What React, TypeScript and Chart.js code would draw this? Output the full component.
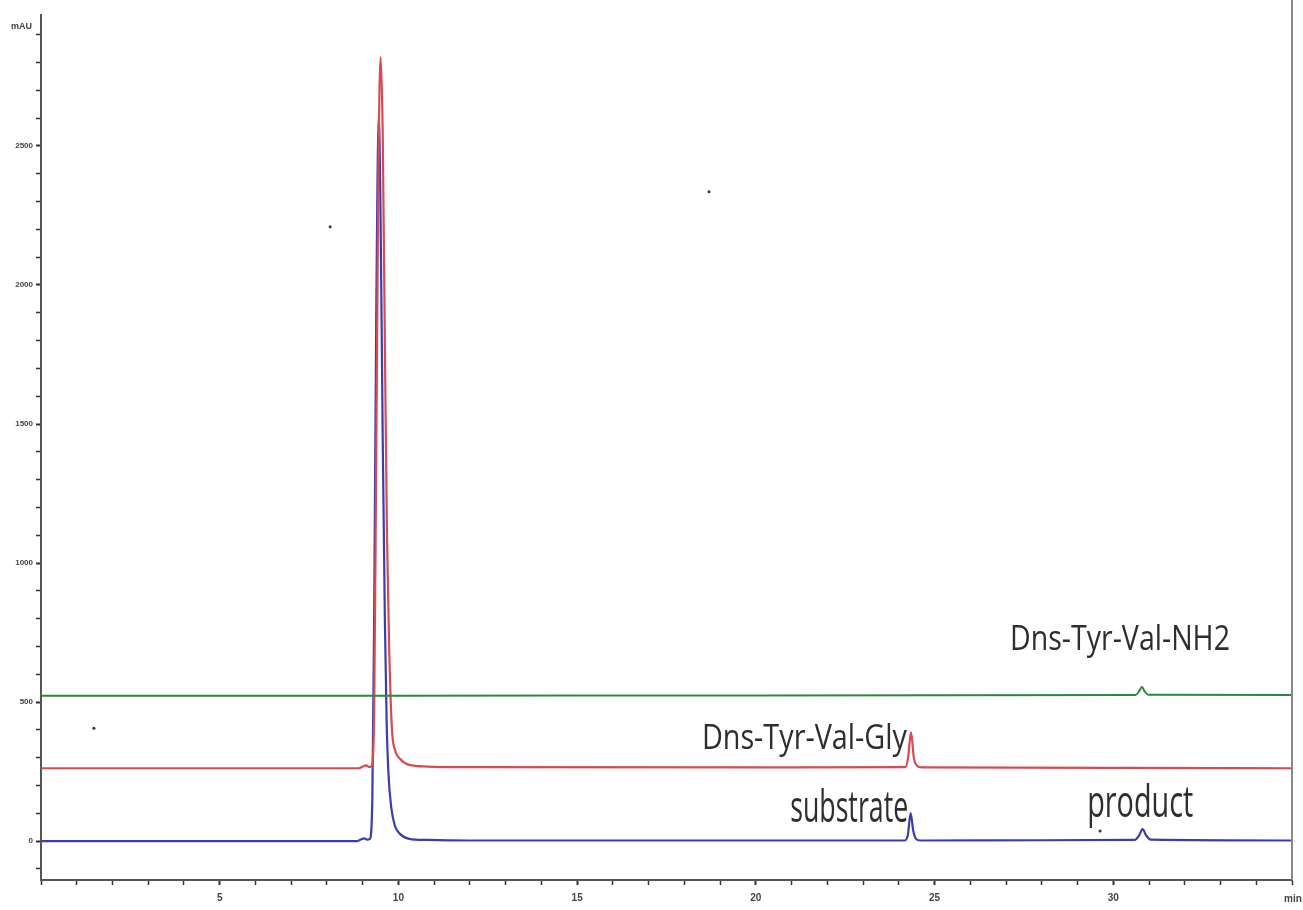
import React, { useEffect, useRef } from "react";
import { Chart, registerables } from "chart.js";

Chart.register(...registerables);

// Retention time (min) and absorbance (mAU) pairs
const blueTimes = [0, 5, 8.85, 8.95, 9.05, 9.12, 9.2, 9.27, 9.32, 9.38, 9.45, 9.5, 9.56, 9.62, 9.67, 9.72, 9.8, 9.9, 10.05, 10.3, 10.8, 12, 18, 24.15, 24.25, 24.33, 24.4, 24.48, 24.6, 28, 30.6, 30.72, 30.82, 30.92, 31.05, 35];
const blueValues = [0, 0, 0, 6, 10, 5, 8, 150, 800, 1900, 2611, 2250, 1450, 800, 430, 245, 120, 55, 25, 8, 4, 2, 2, 2, 20, 101, 40, 8, 2, 3, 4, 20, 43, 20, 5, 2];

const redTimes = [0, 5, 8.9, 9.0, 9.1, 9.18, 9.25, 9.32, 9.38, 9.44, 9.5, 9.56, 9.62, 9.68, 9.74, 9.82, 9.9, 10.05, 10.3, 10.8, 12, 20, 24.18, 24.26, 24.34, 24.42, 24.5, 24.65, 30, 35];
const redValues = [262, 262, 262, 268, 272, 266, 270, 450, 1400, 2400, 2820, 2550, 1800, 1100, 700, 400, 330, 295, 274, 268, 266, 265, 266, 300, 392, 300, 272, 265, 263, 262];

const greenTimes = [0, 10, 20, 30.62, 30.72, 30.8, 30.88, 30.98, 35];
const greenValues = [523, 523, 524, 525, 538, 554, 538, 526, 525];

const speckTimes = [1.48, 8.09, 18.69, 29.63];
const speckValues = [406, 2209, 2335, 36];

const labelTexts = ["Dns-Tyr-Val-NH2", "Dns-Tyr-Val-Gly", "substrate", "product"];
const labelTimes = [27.11, 18.49, 20.96, 29.27];
const labelValues = [687, 331, 68, 86];

const xMajorTicks = [5, 10, 15, 20, 25, 30];
const yMajorTicks = [0, 500, 1000, 1500, 2000, 2500];

const toPoints = (xs: number[], ys: number[]) => xs.map((x, i) => ({ x, y: ys[i] }));

const labelStyle = [
  { size: 35, width: 220 },
  { size: 35, width: 205 },
  { size: 44, width: 118 },
  { size: 44, width: 106 },
];

const decorPlugin = {
  id: "decor",
  afterDraw(chart: any) {
    const { ctx, chartArea, scales } = chart;
    ctx.save();
    // right frame line
    ctx.strokeStyle = "#8a8a8a";
    ctx.lineWidth = 2;
    ctx.beginPath();
    ctx.moveTo(chartArea.right, 0);
    ctx.lineTo(chartArea.right, chartArea.bottom);
    ctx.stroke();

    // axis unit labels
    ctx.fillStyle = "#444";
    ctx.font = "bold 9px 'Liberation Sans'";
    ctx.textAlign = "right";
    ctx.textBaseline = "middle";
    ctx.fillText("mAU", chartArea.left - 9, chartArea.top + 12);
    ctx.textAlign = "left";
    ctx.font = "bold 10px 'Liberation Sans'";
    ctx.fillText("min", chartArea.right - 8, chartArea.bottom + 19);

    // peak annotations
    ctx.fillStyle = "#2e2e2e";
    ctx.textBaseline = "alphabetic";
    ctx.textAlign = "left";
    labelTexts.forEach((t, i) => {
      const px = scales.x.getPixelForValue(labelTimes[i]);
      const py = scales.y.getPixelForValue(labelValues[i]);
      ctx.font = `${labelStyle[i].size}px 'Open Sans'`;
      ctx.fillText(t, px, py, labelStyle[i].width);
    });
    ctx.restore();
  },
};

export default function App() {
  const ref = useRef<HTMLCanvasElement>(null);
  useEffect(() => {
    if (!ref.current) return;
    const chart = new Chart(ref.current, {
      type: "line",
      data: {
        datasets: [
          {
            label: "Dns-Tyr-Val-NH2",
            data: toPoints(greenTimes, greenValues),
            borderColor: "rgb(45,135,60)",
            borderWidth: 2,
            pointRadius: 0,
            cubicInterpolationMode: "monotone",
          },
          {
            label: "Dns-Tyr-Val-Gly",
            data: toPoints(redTimes, redValues),
            borderColor: "rgb(215,75,80)",
            borderWidth: 2.2,
            pointRadius: 0,
            cubicInterpolationMode: "monotone",
          },
          {
            label: "sample",
            data: toPoints(blueTimes, blueValues),
            borderColor: "rgb(60,60,175)",
            borderWidth: 2.2,
            pointRadius: 0,
            cubicInterpolationMode: "monotone",
          },
          {
            type: "scatter",
            label: "specks",
            data: toPoints(speckTimes, speckValues),
            backgroundColor: "#333",
            borderWidth: 0,
            pointRadius: 1.5,
            showLine: false,
          } as any,
        ],
      },
      options: {
        animation: false,
        responsive: true,
        maintainAspectRatio: false,
        layout: { padding: { top: 15, right: 11, left: 0, bottom: 0 } },
        plugins: { legend: { display: false }, tooltip: { enabled: false } },
        scales: {
          x: {
            type: "linear",
            min: 0,
            max: 35,
            afterFit: (s: any) => {
              s.height = 30;
            },
            border: { display: true, color: "#555", width: 2 },
            grid: {
              display: true,
              drawOnChartArea: false,
              drawTicks: true,
              tickLength: 5,
              tickColor: "#333",
              tickWidth: (c: any) => (c.tick && xMajorTicks.includes(c.tick.value) ? 2 : 1.5),
            },
            ticks: {
              stepSize: 1,
              autoSkip: false,
              includeBounds: false,
              maxRotation: 0,
              padding: 7,
              color: "#444",
              font: { size: 10, weight: "bold", family: "'Liberation Sans'" },
              callback: (v: any) => (xMajorTicks.includes(Number(v)) ? String(v) : ""),
            },
          },
          y: {
            type: "linear",
            min: -140,
            max: 2971,
            afterFit: (s: any) => {
              s.width = 41;
            },
            border: { display: true, color: "#555", width: 2 },
            grid: {
              display: true,
              drawOnChartArea: false,
              drawTicks: true,
              tickLength: 5,
              tickColor: "#333",
              tickWidth: (c: any) => (c.tick && yMajorTicks.includes(c.tick.value) ? 2 : 1.5),
            },
            ticks: {
              stepSize: 100,
              autoSkip: false,
              includeBounds: false,
              padding: 3,
              color: "#444",
              font: { size: 8, weight: "bold", family: "'Liberation Sans'" },
              callback: (v: any) => (yMajorTicks.includes(Number(v)) ? String(v) : ""),
            },
          },
        },
      },
      plugins: [decorPlugin],
    });
    return () => chart.destroy();
  }, []);

  return (
    <div style={{ position: "absolute", left: 0, top: 0, width: 1303, height: 910, background: "#fff" }}>
      <canvas ref={ref} />
    </div>
  );
}
